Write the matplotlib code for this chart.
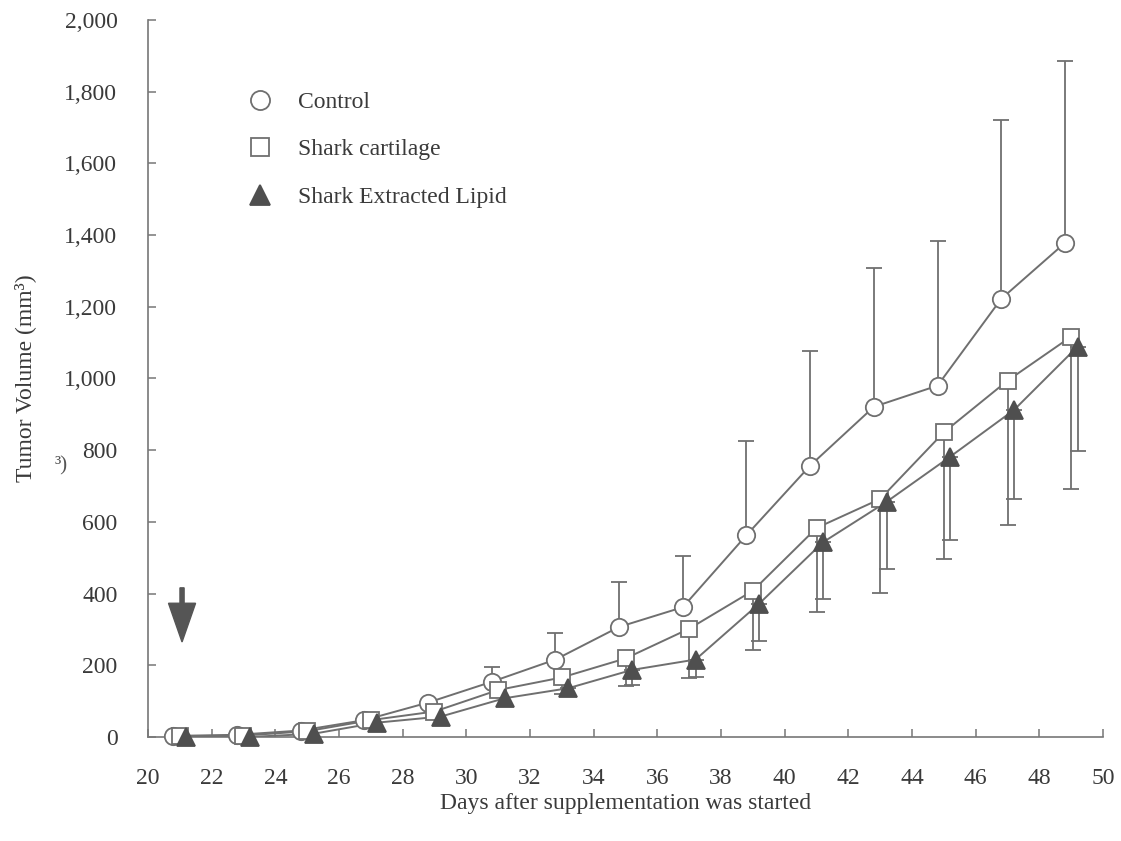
import numpy as np
import matplotlib
matplotlib.use("Agg")
import matplotlib.pyplot as plt
from matplotlib.ticker import FuncFormatter

plt.rcParams['font.family'] = ['Liberation Serif', 'DejaVu Serif']

# data
days = [21, 23, 25, 27, 29, 31, 33, 35, 37, 39, 41, 43, 45, 47, 49]

control = [3, 6, 18, 47, 96, 154, 216, 307, 362, 563, 757, 921, 980, 1222, 1378]
control_top = [0, 0, 0, 0, 0, 194, 291, 432, 506, 826, 1078, 1308, 1383, 1722, 1886]

cartilage = [2, 4, 16, 47, 71, 131, 166, 219, 302, 408, 583, 664, 850, 994, 1117]
cartilage_low = [0, 0, 0, 0, 0, 0, 120, 142, 165, 243, 348, 401, 496, 592, 692]

lipid = [0, 0, 9, 40, 57, 108, 136, 187, 216, 372, 543, 656, 782, 912, 1089]
lipid_low = [0, 0, 0, 0, 0, 0, 115, 145, 168, 269, 385, 468, 550, 663, 798]

labels = ["Control", "Shark cartilage", "Shark Extracted Lipid"]

line_col = "#6f6f6f"
tri_col = "#4f4f4f"
text_col = "#3a3a3a"

fig = plt.figure(figsize=(11.21, 8.41), dpi=100)
ax = fig.add_axes([0.132, 0.1237, 0.852, 0.8525])

x = np.array(days, dtype=float)


def draw(xs, ys, err_end, up, marker, face, ms, label):
    ys = np.array(ys, dtype=float)
    err_end = np.array(err_end, dtype=float)
    m = err_end > 0
    if up:
        yerr = [np.zeros(m.sum()), err_end[m] - ys[m]]
    else:
        yerr = [ys[m] - err_end[m], np.zeros(m.sum())]
    ax.errorbar(xs[m], ys[m], yerr=yerr, fmt='none', ecolor=line_col,
                elinewidth=1.3, capsize=6, capthick=1.3, zorder=2)
    ax.plot(xs, ys, '-', color=line_col, lw=1.4, zorder=3)
    ax.plot(xs, ys, marker, ls='none', ms=ms, mfc=face, mec=line_col if face == 'white' else tri_col,
            mew=1.3, label=label, zorder=4, clip_on=False)


draw(x - 0.2, control, control_top, True, 'o', 'white', 12.5, labels[0])
draw(x, cartilage, cartilage_low, False, 's', 'white', 12, labels[1])
draw(x + 0.2, lipid, lipid_low, False, '^', tri_col, 13, labels[2])

# start of supplementation arrow
ax.arrow(21.07, 416, 0, -151, width=0.13, head_width=0.85, head_length=108,
         length_includes_head=True, color="#555555", zorder=5)

ax.set_xlim(20, 50)
ax.set_ylim(0, 2000)
ax.set_xticks(np.arange(20, 51, 2))
ax.set_yticks(np.arange(0, 2001, 200))
ax.yaxis.set_major_formatter(FuncFormatter(lambda v, p: f"{int(v):,}"))

for s in ['top', 'right']:
    ax.spines[s].set_visible(False)
for s in ['left', 'bottom']:
    ax.spines[s].set_color("#777777")
    ax.spines[s].set_linewidth(1.2)

ax.tick_params(direction='in', length=6, width=1.1, color="#777777",
               labelsize=17, labelcolor=text_col)
ax.tick_params(axis='y', pad=22)
ax.tick_params(axis='x', pad=22)

ax.set_xlabel("Days after supplementation was started", fontsize=17,
              color=text_col, labelpad=3)
ax.set_ylabel("Tumor Volume (mm³)", fontsize=17, color=text_col, labelpad=20)

fig.text(0.049, 0.44, "³)", fontsize=15, color="#555555")

leg = ax.legend(loc='upper left', bbox_to_anchor=(0.08, 0.93), frameon=False,
                fontsize=17, handlelength=1.2, handletextpad=1.0,
                labelspacing=1.1, markerscale=1.1)
for t in leg.get_texts():
    t.set_color(text_col)

fig.savefig("out.png", dpi=100)
